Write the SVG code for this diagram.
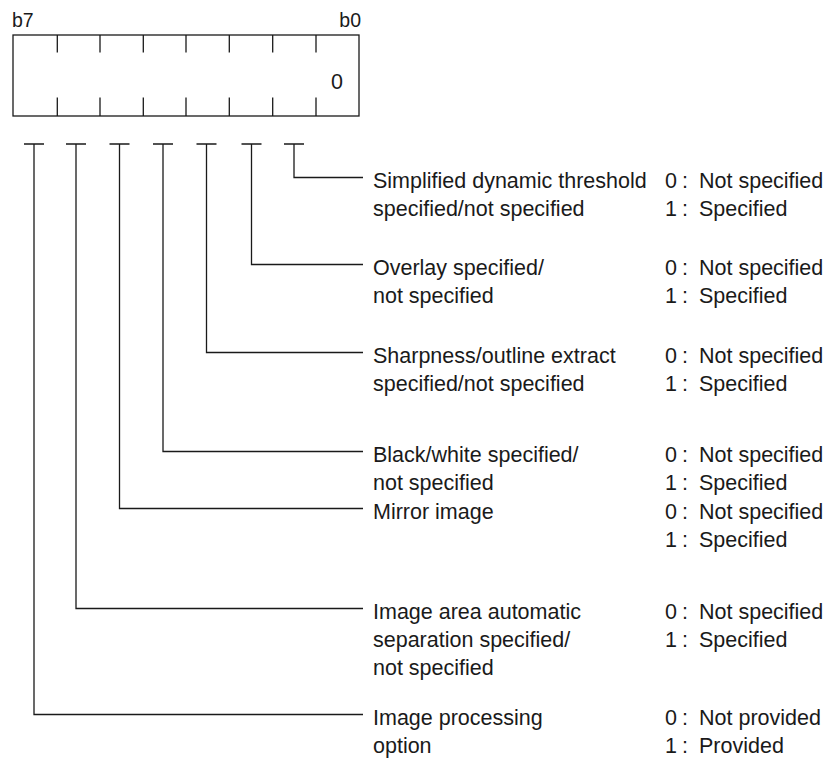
<svg xmlns="http://www.w3.org/2000/svg" width="836" height="758" viewBox="0 0 836 758">
<style>
.ln{stroke:#1a1a1a;stroke-width:1.3;fill:none}
text{font-family:"Liberation Sans",Arial,sans-serif;font-size:21.5px;fill:#1a1a1a}
.bit{font-size:19.5px}
</style>
<rect width="836" height="758" fill="#fff"/>
<g id="register">
<rect class="ln" x="13" y="35" width="346" height="81"/>
<path class="ln" d="M57.3,35V52.5M100,35V52.5M143.3,35V52.5M186,35V52.5M229.3,35V52.5M272.7,35V52.5M316,35V52.5M57.3,97.5V116M100,97.5V116M143.3,97.5V116M186,97.5V116M229.3,97.5V116M272.7,97.5V116M316,97.5V116"/>
<text class="bit" x="12" y="27">b7</text>
<text class="bit" x="361" y="27" text-anchor="end">b0</text>
<text x="337" y="89" text-anchor="middle">0</text>
</g>
<g id="connectors">
<path class="ln" d="M284,144H304M294,144V177.5H363"/>
<path class="ln" d="M241.5,144H261.5M251.5,144V264.5H363"/>
<path class="ln" d="M196.5,144H216.5M206.5,144V352.5H363"/>
<path class="ln" d="M153,144H173M163,144V451.5H363"/>
<path class="ln" d="M109.5,144H129.5M119.5,144V508.5H363"/>
<path class="ln" d="M66,144H86M76,144V608.5H363"/>
<path class="ln" d="M24,144H44M34,144V714.5H363"/>
</g>
<g id="b1">
<text x="373" y="188">Simplified dynamic threshold</text>
<text x="373" y="216">specified/not specified</text>
<text y="188"><tspan x="665">0</tspan><tspan x="682">:</tspan><tspan x="699">Not specified</tspan></text>
<text y="216"><tspan x="665">1</tspan><tspan x="682">:</tspan><tspan x="699">Specified</tspan></text>
</g>
<g id="b2">
<text x="373" y="275">Overlay specified/</text>
<text x="373" y="303">not specified</text>
<text y="275"><tspan x="665">0</tspan><tspan x="682">:</tspan><tspan x="699">Not specified</tspan></text>
<text y="303"><tspan x="665">1</tspan><tspan x="682">:</tspan><tspan x="699">Specified</tspan></text>
</g>
<g id="b3">
<text x="373" y="363">Sharpness/outline extract</text>
<text x="373" y="391">specified/not specified</text>
<text y="363"><tspan x="665">0</tspan><tspan x="682">:</tspan><tspan x="699">Not specified</tspan></text>
<text y="391"><tspan x="665">1</tspan><tspan x="682">:</tspan><tspan x="699">Specified</tspan></text>
</g>
<g id="b4">
<text x="373" y="462">Black/white specified/</text>
<text x="373" y="490">not specified</text>
<text y="462"><tspan x="665">0</tspan><tspan x="682">:</tspan><tspan x="699">Not specified</tspan></text>
<text y="490"><tspan x="665">1</tspan><tspan x="682">:</tspan><tspan x="699">Specified</tspan></text>
</g>
<g id="b5">
<text x="373" y="519">Mirror image</text>
<text y="519"><tspan x="665">0</tspan><tspan x="682">:</tspan><tspan x="699">Not specified</tspan></text>
<text y="547"><tspan x="665">1</tspan><tspan x="682">:</tspan><tspan x="699">Specified</tspan></text>
</g>
<g id="b6">
<text x="373" y="619">Image area automatic</text>
<text x="373" y="647">separation specified/</text>
<text x="373" y="675">not specified</text>
<text y="619"><tspan x="665">0</tspan><tspan x="682">:</tspan><tspan x="699">Not specified</tspan></text>
<text y="647"><tspan x="665">1</tspan><tspan x="682">:</tspan><tspan x="699">Specified</tspan></text>
</g>
<g id="b7">
<text x="373" y="725">Image processing</text>
<text x="373" y="753">option</text>
<text y="725"><tspan x="665">0</tspan><tspan x="682">:</tspan><tspan x="699">Not provided</tspan></text>
<text y="753"><tspan x="665">1</tspan><tspan x="682">:</tspan><tspan x="699">Provided</tspan></text>
</g>
</svg>
